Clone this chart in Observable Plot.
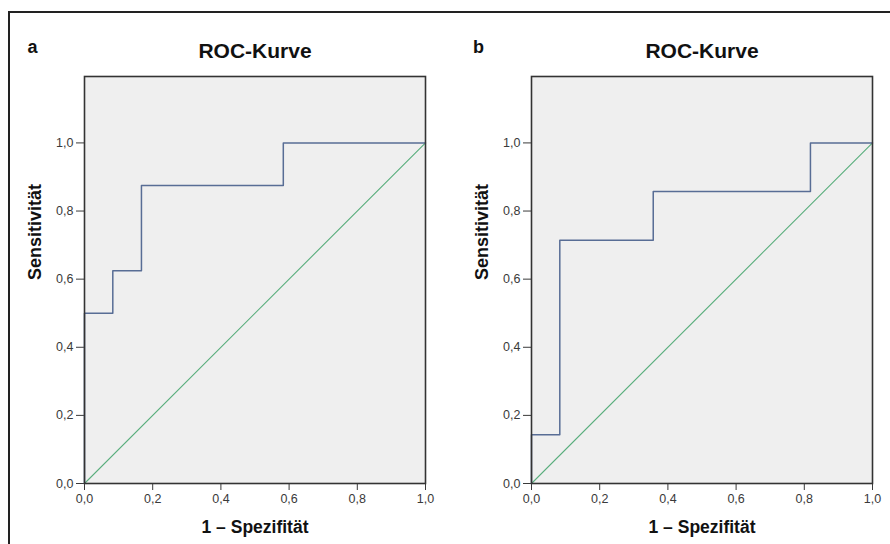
<!DOCTYPE html>
<html>
<head>
<meta charset="utf-8">
<script src="https://cdn.jsdelivr.net/npm/d3@7"></script>
<script src="https://cdn.jsdelivr.net/npm/@observablehq/plot@0.6"></script>
<style>
  html, body { margin: 0; padding: 0; background: #fff; overflow: hidden; scrollbar-width: none; }
  ::-webkit-scrollbar { display: none; width: 0; height: 0; }
  #wrap { position: relative; width: 890px; height: 544px; overflow: hidden; font-family: "Liberation Sans", Arial, sans-serif; }
  .panel { position: absolute; top: 0; width: 445px; height: 544px; overflow: hidden; }
  .rule { position: absolute; background: #222; pointer-events: none; }
</style>
</head>
<body>
<div id="wrap">
  <div id="pa" class="panel" style="left:0px"></div>
  <div id="pb" class="panel" style="left:445px"></div>
  <div class="rule" style="left:8px; top:11px; width:882px; height:1.5px"></div>
  <div class="rule" style="left:8px; top:11px; width:1.5px; height:533px"></div>
</div>
<script>
// Panel labels and titles
const panelLetters = ["a", "b"];
const titles = ["ROC-Kurve", "ROC-Kurve"];
const xLabel = "1 – Spezifität";
const yLabel = "Sensitivität";
const tickValues = [0, 0.2, 0.4, 0.6, 0.8, 1.0];

// ROC curve points (1 - specificity, sensitivity), panel a
const fprA = [0, 0, 0.083, 0.167, 0.583, 1.0];
const tprA = [0, 0.5, 0.625, 0.875, 1.0, 1.0];
// panel b
const fprB = [0, 0, 0.083, 0.357, 0.818, 1.0];
const tprB = [0, 0.143, 0.714, 0.857, 1.0, 1.0];
// reference diagonal
const diagX = [0, 1];
const diagY = [0, 1];

const fmt = d => d.toFixed(1).replace(".", ",");

function panel(fpr, tpr, letter, title, mL, mR, letterDx) {
  const roc = fpr.map((x, i) => ({x, y: tpr[i]}));
  const diag = diagX.map((x, i) => ({x, y: diagY[i]}));
  return Plot.plot({
    width: 445,
    height: 544,
    marginLeft: mL,
    marginRight: mR,
    marginTop: 76,
    marginBottom: 61,
    style: {background: "transparent", fontFamily: "'Liberation Sans', Arial, sans-serif", fontSize: "12.5px", color: "#3a3a3a", overflow: "hidden"},
    x: {domain: [0, 1], ticks: tickValues, tickFormat: fmt, tickSize: 7, tickPadding: 4, label: null},
    y: {domain: [0, 1.195], ticks: tickValues, tickFormat: fmt, tickSize: 8, tickPadding: 3, label: null},
    marks: [
      Plot.frame({fill: "#efefef"}),
      Plot.line(diag, {x: "x", y: "y", stroke: "#5aae7d", strokeWidth: 1.1}),
      Plot.line(roc, {x: "x", y: "y", curve: "step-after", stroke: "#586d95", strokeWidth: 1.5}),
      Plot.frame({stroke: "#333", strokeWidth: 1.6}),
      Plot.text([title], {frameAnchor: "top", lineAnchor: "middle", dy: -25.5, fontWeight: "bold", fontSize: 21, fill: "#111"}),
      Plot.text([letter], {frameAnchor: "top-left", lineAnchor: "middle", dx: letterDx, dy: -29.5, textAnchor: "middle", fontWeight: "bold", fontSize: 18, fill: "#111"}),
      Plot.text([yLabel], {frameAnchor: "left", lineAnchor: "middle", dx: -49, rotate: -90, fontWeight: "bold", fontSize: 18, fill: "#111"}),
      Plot.text([xLabel], {frameAnchor: "bottom", lineAnchor: "middle", dy: 44, fontWeight: "bold", fontSize: 17.5, fill: "#111"})
    ]
  });
}

document.getElementById("pa").append(panel(fprA, tprA, panelLetters[0], titles[0], 84, 20, -52));
document.getElementById("pb").append(panel(fprB, tprB, panelLetters[1], titles[1], 86, 18, -53));
</script>
</body>
</html>
